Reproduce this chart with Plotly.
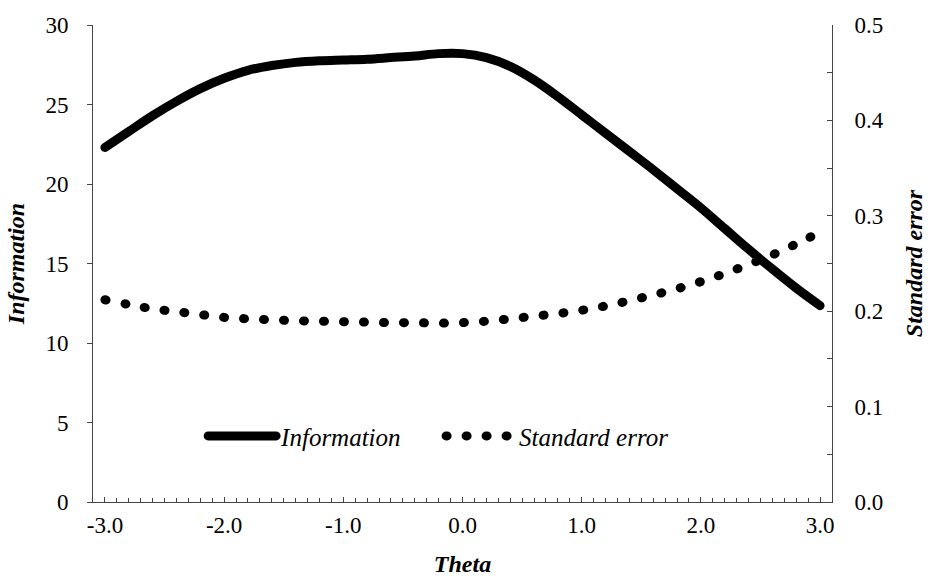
import plotly.graph_objects as go

theta = [-3.0, -2.8, -2.6, -2.4, -2.2, -2.0, -1.8, -1.6, -1.4, -1.2, -1.0,
         -0.8, -0.6, -0.4, -0.2, 0.0, 0.2, 0.4, 0.6, 0.8, 1.0,
         1.2, 1.4, 1.6, 1.8, 2.0, 2.2, 2.4, 2.6, 2.8, 3.0]

information = [22.3, 23.3, 24.3, 25.2, 26.0, 26.65, 27.15, 27.45, 27.65, 27.75, 27.8,
               27.85, 27.95, 28.05, 28.2, 28.2, 27.95, 27.4, 26.55, 25.5, 24.35,
               23.2, 22.05, 20.9, 19.7, 18.5, 17.2, 15.9, 14.65, 13.45, 12.35]

standard_error = [0.212, 0.207, 0.2025, 0.1995, 0.1965, 0.1935, 0.192, 0.191, 0.190, 0.1895, 0.189,
                  0.1885, 0.188, 0.188, 0.1875, 0.188, 0.1895, 0.192, 0.1948, 0.1975, 0.201,
                  0.2055, 0.211, 0.217, 0.2235, 0.231, 0.2395, 0.249, 0.259, 0.2705, 0.283]

x_tick_vals = [-3.0, -2.0, -1.0, 0.0, 1.0, 2.0, 3.0]
x_tick_text = ["-3.0", "-2.0", "-1.0", "0.0", "1.0", "2.0", "3.0"]
y_left_ticks = [0, 5, 10, 15, 20, 25, 30]
y_right_ticks = [0.0, 0.1, 0.2, 0.3, 0.4, 0.5]
y_right_text = ["0.0", "0.1", "0.2", "0.3", "0.4", "0.5"]

FONT = "'Liberation Serif', 'Times New Roman', Times, serif"
AXCOL = "#444444"

fig = go.Figure()
fig.add_trace(go.Scatter(
    x=theta, y=information, name="Information", mode="lines",
    line=dict(color="black", width=9, shape="spline", smoothing=1.0),
    yaxis="y",
))
fig.add_trace(go.Scatter(
    x=theta, y=standard_error, name="Standard error", mode="lines",
    line=dict(color="black", width=9, dash="1px,19px", shape="spline", smoothing=1.0),
    yaxis="y2",
))

fig.update_layout(
    width=934, height=580,
    margin=dict(l=93, r=102, t=25, b=78, autoexpand=False),
    paper_bgcolor="white", plot_bgcolor="white",
    font=dict(family=FONT, size=23, color="black"),
    showlegend=True,
    legend=dict(
        orientation="h", x=0.149, xanchor="left", y=0.138, yanchor="middle",
        bgcolor="rgba(0,0,0,0)", borderwidth=0,
        font=dict(family=FONT, size=25, color="black", style="italic"),
        itemwidth=68, entrywidth=155, entrywidthmode="pixels",
        tracegroupgap=0,
    ),
    xaxis=dict(
        range=[-3.1, 3.1], showgrid=False, zeroline=False, automargin=False,
        showline=True, linecolor=AXCOL, linewidth=1,
        tickmode="array", tickvals=x_tick_vals, ticktext=x_tick_text,
        ticks="inside", ticklen=5, tickcolor=AXCOL, tickwidth=1,
        minor=dict(dtick=0.1, tick0=0, ticks="inside", ticklen=4, tickcolor=AXCOL, tickwidth=1),
        ticklabelstandoff=2,
        tickfont=dict(family=FONT, size=23, color="black"),
        title=dict(text="Theta", standoff=18,
                   font=dict(family=FONT, size=24, color="black", weight="bold", style="italic")),
    ),
    yaxis=dict(
        range=[0, 30], showgrid=False, zeroline=False, automargin=False,
        showline=True, linecolor=AXCOL, linewidth=1,
        tickmode="array", tickvals=y_left_ticks,
        ticks="outside", ticklen=5, tickcolor=AXCOL, tickwidth=1,
        ticklabelstandoff=14,
        tickfont=dict(family=FONT, size=23, color="black"),
        title=dict(text="Information", standoff=14,
                   font=dict(family=FONT, size=24, color="black", weight="bold", style="italic")),
    ),
    yaxis2=dict(
        range=[0, 0.5], overlaying="y", side="right", showgrid=False, zeroline=False, automargin=False,
        showline=True, linecolor=AXCOL, linewidth=1,
        tickmode="array", tickvals=y_right_ticks, ticktext=y_right_text,
        ticks="inside", ticklen=5, tickcolor=AXCOL, tickwidth=1,
        minor=dict(dtick=0.05, tick0=0, ticks="inside", ticklen=5, tickcolor=AXCOL, tickwidth=1),
        ticklabelstandoff=17,
        tickfont=dict(family=FONT, size=23, color="black"),
        title=dict(text="Standard error", standoff=22,
                   font=dict(family=FONT, size=24, color="black", weight="bold", style="italic")),
    ),
)

post = """
var s = document.createElement('style');
s.textContent = 'html, body { margin: 0 !important; padding: 0 !important; } .js-line, .legendlines path { stroke-linecap: round !important; }';
document.head.appendChild(s);
"""

fig.write_html("out.html", post_script=post, config={"displayModeBar": False})
